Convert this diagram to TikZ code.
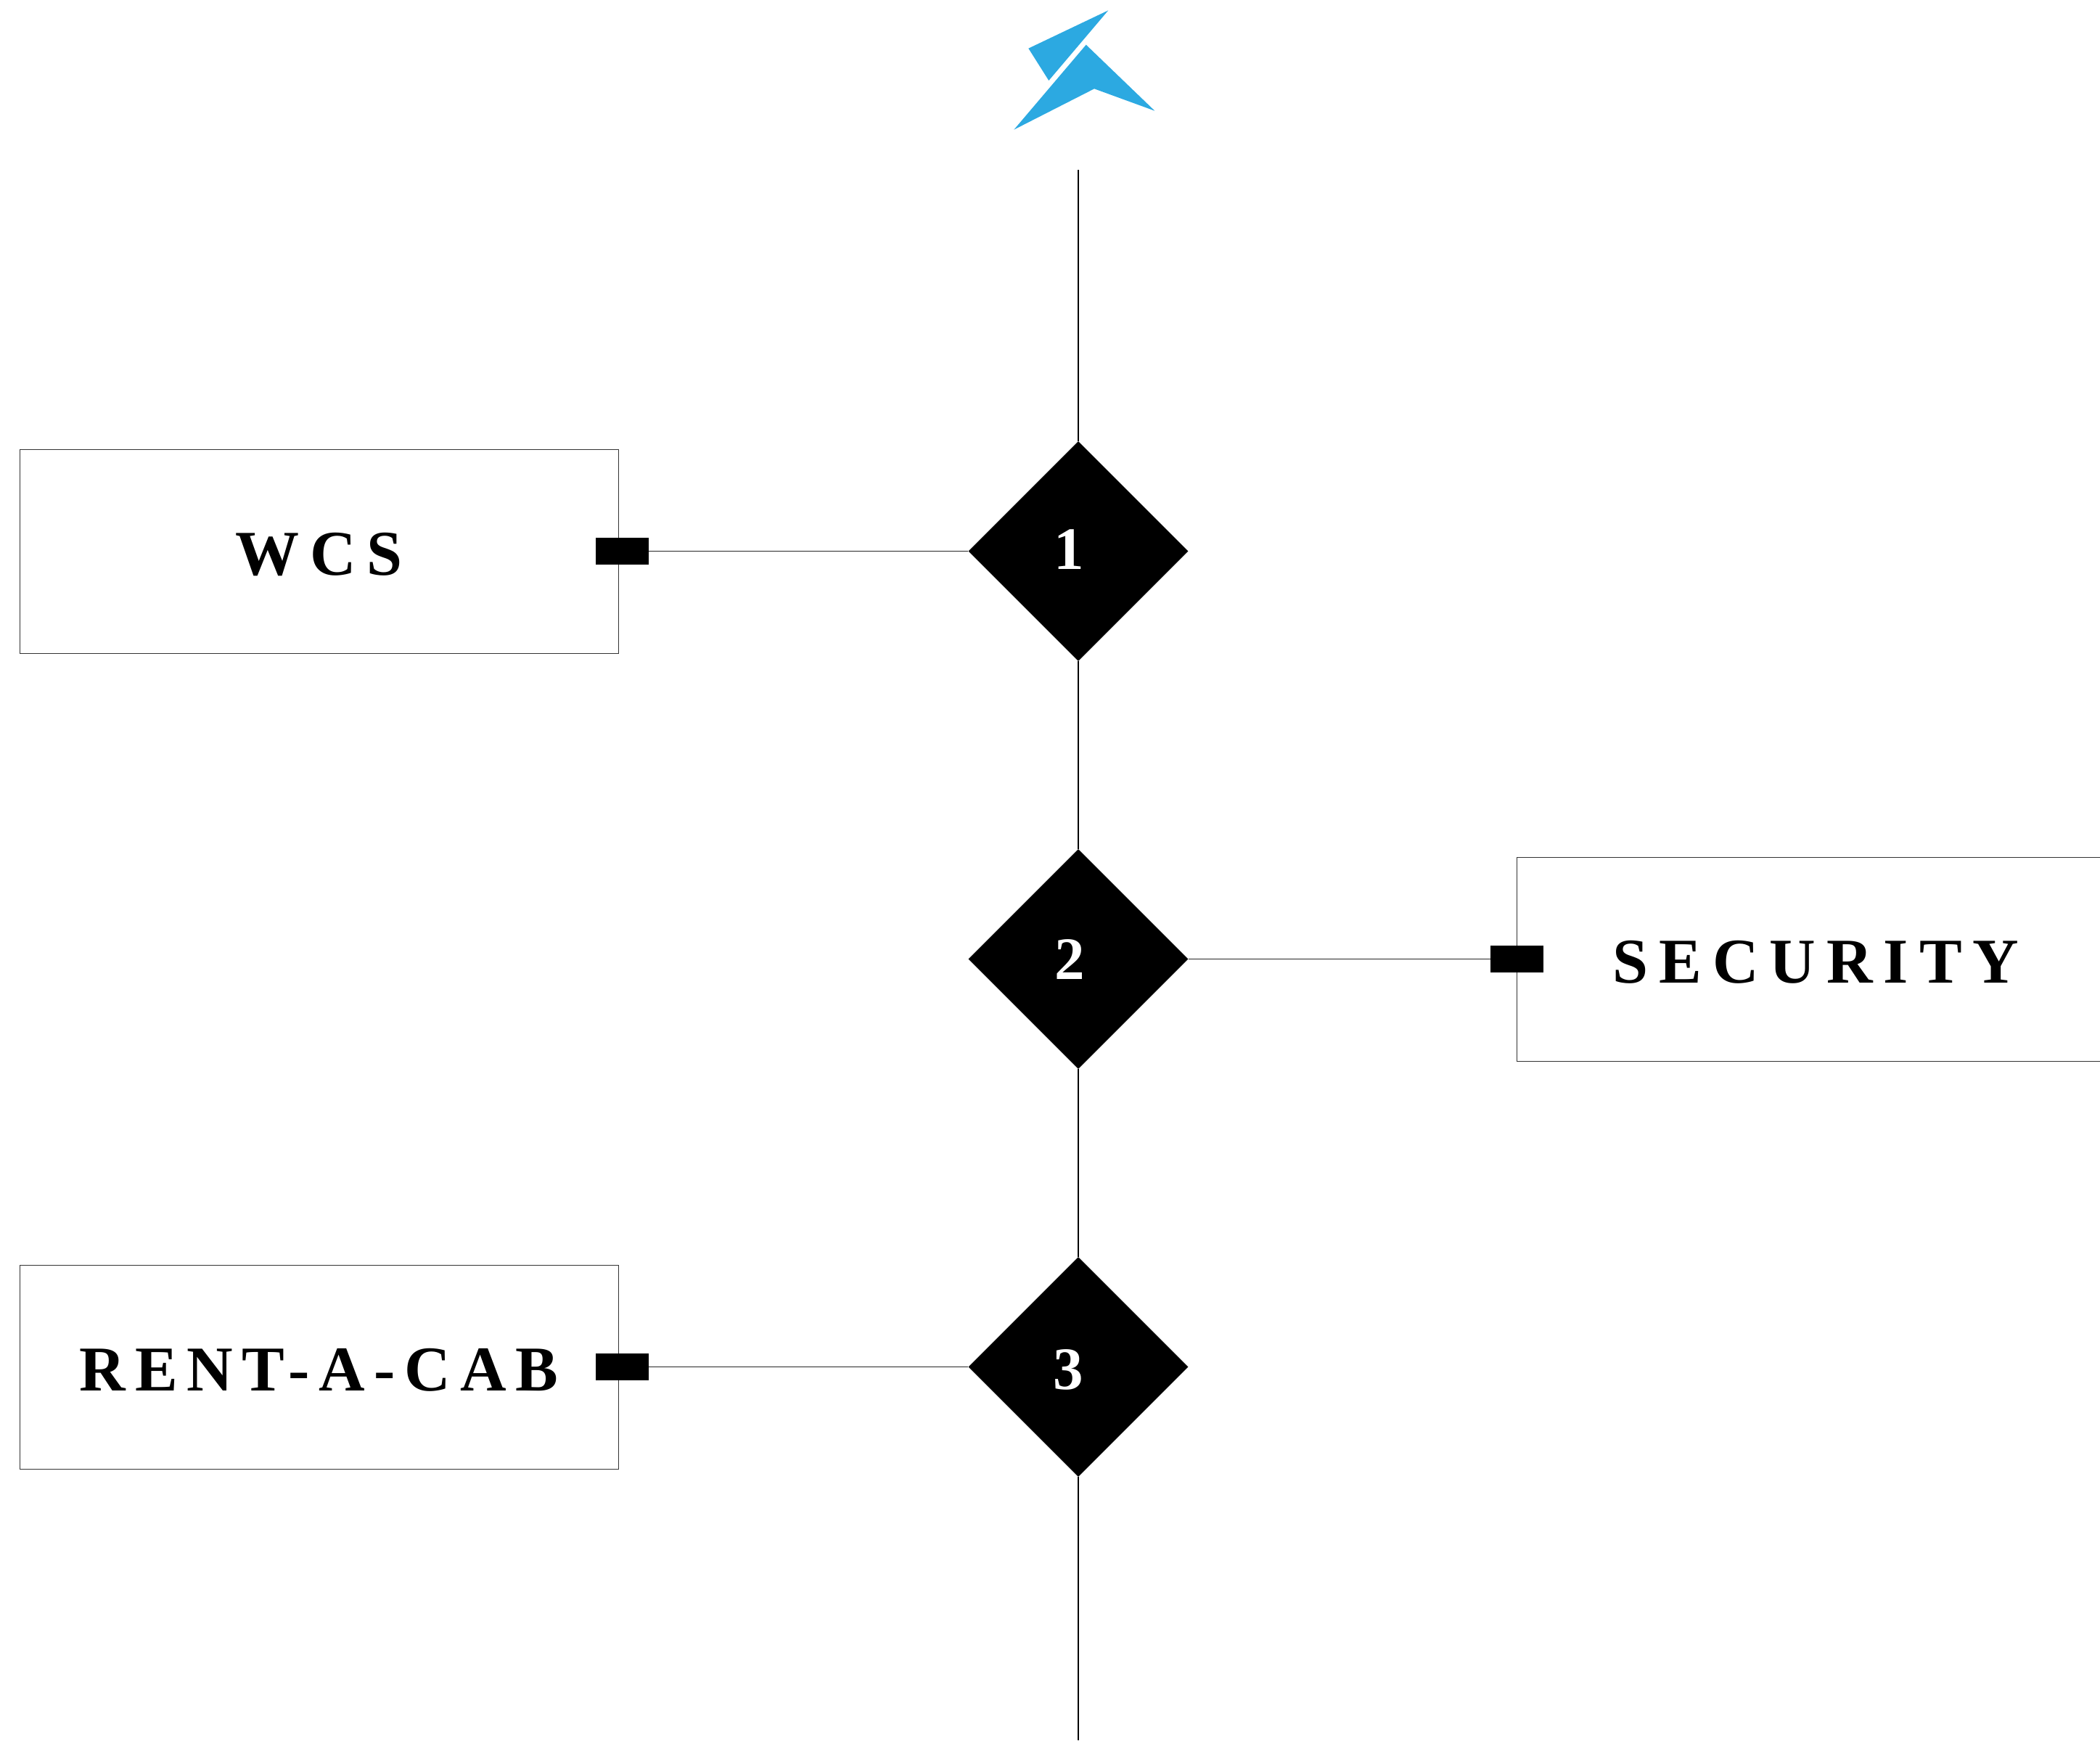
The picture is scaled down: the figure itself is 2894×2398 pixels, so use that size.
\documentclass[tikz,border=0pt]{standalone}
\usepackage{fontspec}
\setmainfont{Liberation Serif}
\usetikzlibrary{shapes.geometric}
\definecolor{logoblue}{HTML}{2CA9E1}
\newcommand{\labelfont}{\fontsize{44pt}{48pt}\selectfont\bfseries}
\newcommand{\digitfont}{\fontsize{41.5pt}{46pt}\selectfont\bfseries}
\tikzset{
  x=0.5pt,y=-0.5pt,
  box/.style={draw=black!80,line width=0.5pt,fill=white,minimum width=412.5pt,minimum height=140.5pt,inner sep=0pt,font=\labelfont,text height=33pt,text depth=0pt},
  port/.style={fill=black,minimum width=36.5pt,minimum height=18.5pt,inner sep=0pt},
  gate/.style={diamond,fill=black,minimum width=151.5pt,minimum height=151.5pt,inner sep=0pt,aspect=1},
  digit/.style={text=white,font=\digitfont,inner sep=0pt,anchor=base},
  spine/.style={black,line width=1.3pt},
  branch/.style={black!85,line width=0.75pt},
}
\begin{document}
\begin{tikzpicture}
\clip (0,0) rectangle (2894,2398);
\useasboundingbox (0,0) rectangle (2894,2398);
\fill[logoblue] (1527.3,14.3) -- (1417.3,66.7) -- (1445.3,111) -- cycle;
\fill[logoblue] (1496.7,61.7) -- (1591.3,152.7) -- (1508,122.3) -- (1397.3,178.7) -- cycle;
\coordinate (top) at (1486,234);
\coordinate (bottom) at (1486,2398);
\node[box] (wcs) at (439.5,759.5) {\addfontfeature{LetterSpace=17}WCS};
\node[box] (security) at (2502.5,1321.5) {\addfontfeature{LetterSpace=17}SECURITY};
\node[box] (rent) at (439.5,1883.5) {\addfontfeature{LetterSpace=14.5}RENT-A-CAB};
\node[gate] (g1) at (1486,759.5) {};
\node[gate] (g2) at (1486,1321.5) {};
\node[gate] (g3) at (1486,1883.5) {};
\node[digit] (n1) at (1473,784) {1};
\node[digit] (n2) at (1474,1349) {2};
\node[digit] (n3) at (1472,1914) {3};
\node[port] (p1) at (857.5,759.5) {};
\node[port] (p2) at (2090.5,1321.5) {};
\node[port] (p3) at (857.5,1883.5) {};
\draw[spine] (top) -- (g1.north);
\draw[spine] (g1.south) -- (g2.north);
\draw[spine] (g2.south) -- (g3.north);
\draw[spine] (g3.south) -- (bottom);
\draw[branch] (p1.east) -- (g1.west);
\draw[branch] (g2.east) -- (p2.west);
\draw[branch] (p3.east) -- (g3.west);
\end{tikzpicture}
\end{document}
